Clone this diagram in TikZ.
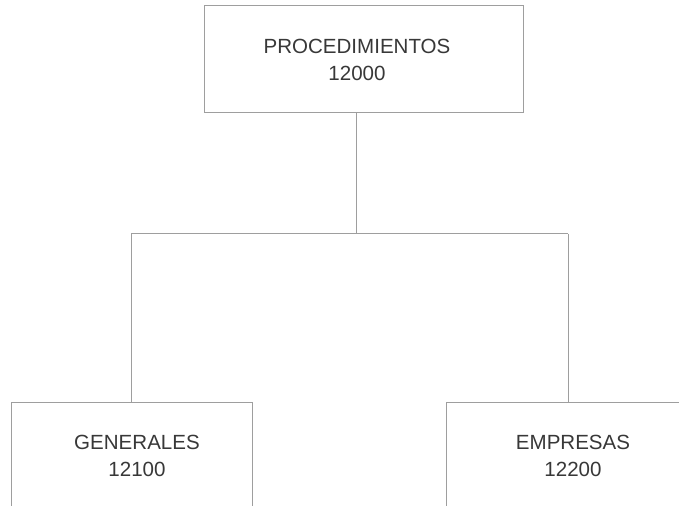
\documentclass[tikz,border=0pt]{standalone}
\usepackage{fontspec}
\setmainfont{Liberation Sans}
\begin{document}
\begin{tikzpicture}[x=0.75pt,y=-0.75pt,
  boxline/.style={draw=black!38,line width=0.75pt},
  orgbox/.style={boxline,rectangle,inner sep=0pt,anchor=north west},
  lbl/.style={align=center,text=black!78,font=\fontsize{15.4pt}{20pt}\selectfont,inner sep=0pt},
  conn/.style={draw=black!38,line width=0.75pt}]
\useasboundingbox (0,0) rectangle (679,506);
\clip (0,0) rectangle (679,506);
\fill[white] (0,0) rectangle (679,506);
% boxes
\node[orgbox,minimum width=319*0.75pt,minimum height=107*0.75pt] (top) at (204,5) {};
\node[orgbox,minimum width=241*0.75pt,minimum height=160*0.75pt] (gen) at (11,402) {};
\node[orgbox,minimum width=260*0.75pt,minimum height=160*0.75pt] (emp) at (446,402) {};
% texts
\node[lbl] (ttext) at (357,60) {PROCEDIMIENTOS\\12000};
\node[lbl] (gtext) at (137,456) {GENERALES\\12100};
\node[lbl] (etext) at (573,456) {EMPRESAS\\12200};
% connectors
\coordinate (jc) at (356,234);
\coordinate (jl) at (131,234);
\coordinate (jr) at (568,234);
\draw[conn] (jc |- top.south) -- (jc);
\draw[conn] (jl) -- (jr);
\draw[conn] (jl) -- (jl |- gen.north);
\draw[conn] (jr) -- (jr |- emp.north);
\end{tikzpicture}
\end{document}
